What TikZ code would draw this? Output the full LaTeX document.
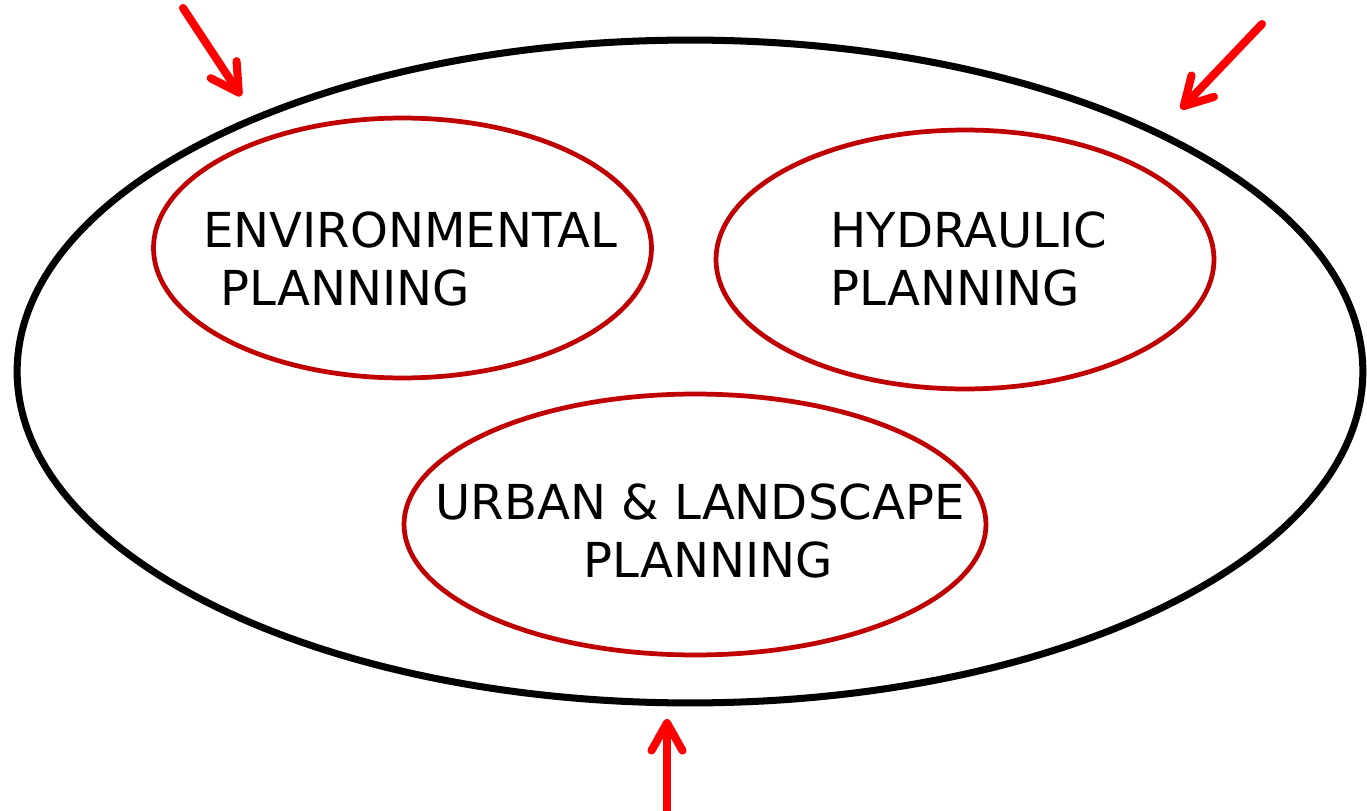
\documentclass[tikz,border=0pt]{standalone}
\usepackage{fontspec}
\setmainfont{DejaVu Sans}
\usetikzlibrary{arrows.meta,shapes.geometric,positioning}
\definecolor{planred}{RGB}{192,0,0}
\tikzstyle{tikzouter} = [ellipse, draw=black, line width=4pt, minimum width=26.92cm, minimum height=13.26cm, inner sep=0pt]
\tikzstyle{tikzfield} = [ellipse, draw=planred, line width=2.7pt, inner sep=0pt]
\tikzstyle{tikzlabel} = [font=\fontsize{27.4}{33}\selectfont, inner sep=0pt]
\tikzstyle{tikzpush} = [draw=red, line width=4.6pt, line cap=round, -{Straight Barb[round, length=0.55cm, width=0.62cm]}]

\begin{document}
\begin{tikzpicture}[x=0.02cm, y=-0.02cm]
    \useasboundingbox (0,0) rectangle (1367,811);

    \node (plan) [tikzouter] at (690,371.5) {};
    \node (env)  [tikzfield, minimum width=9.96cm, minimum height=5.2cm] at (402.5,248) {};
    \node (hyd)  [tikzfield, minimum width=9.96cm, minimum height=5.18cm] at (965,259.5) {};
    \node (urb)  [tikzfield, minimum width=11.64cm, minimum height=5.22cm] at (695,524.5) {};

    \node (envtext) [tikzlabel, align=left] at (410.5,258.5) {ENVIRONMENTAL\\\hspace*{0.34cm}PLANNING};
    \node (hydtext) [tikzlabel, align=left] at (969,258.5) {HYDRAULIC\\PLANNING};
    \node (urbtext) [tikzlabel, align=center] at (700,531) {URBAN \& LANDSCAPE\\\hspace*{0.32cm}PLANNING};

    \coordinate (envtail) at (183,8);
    \coordinate (envtip)  at (241,96);
    \coordinate (hydtail) at (1262,24);
    \coordinate (hydtip)  at (1181,109);
    \coordinate (urbtail) at (667,811);
    \coordinate (urbtip)  at (667,719);

    \draw [tikzpush] (envtail) -- (envtip);
    \draw [tikzpush] (hydtail) -- (hydtip);
    \draw [tikzpush] (urbtail) -- (urbtip);
\end{tikzpicture}
\end{document}
